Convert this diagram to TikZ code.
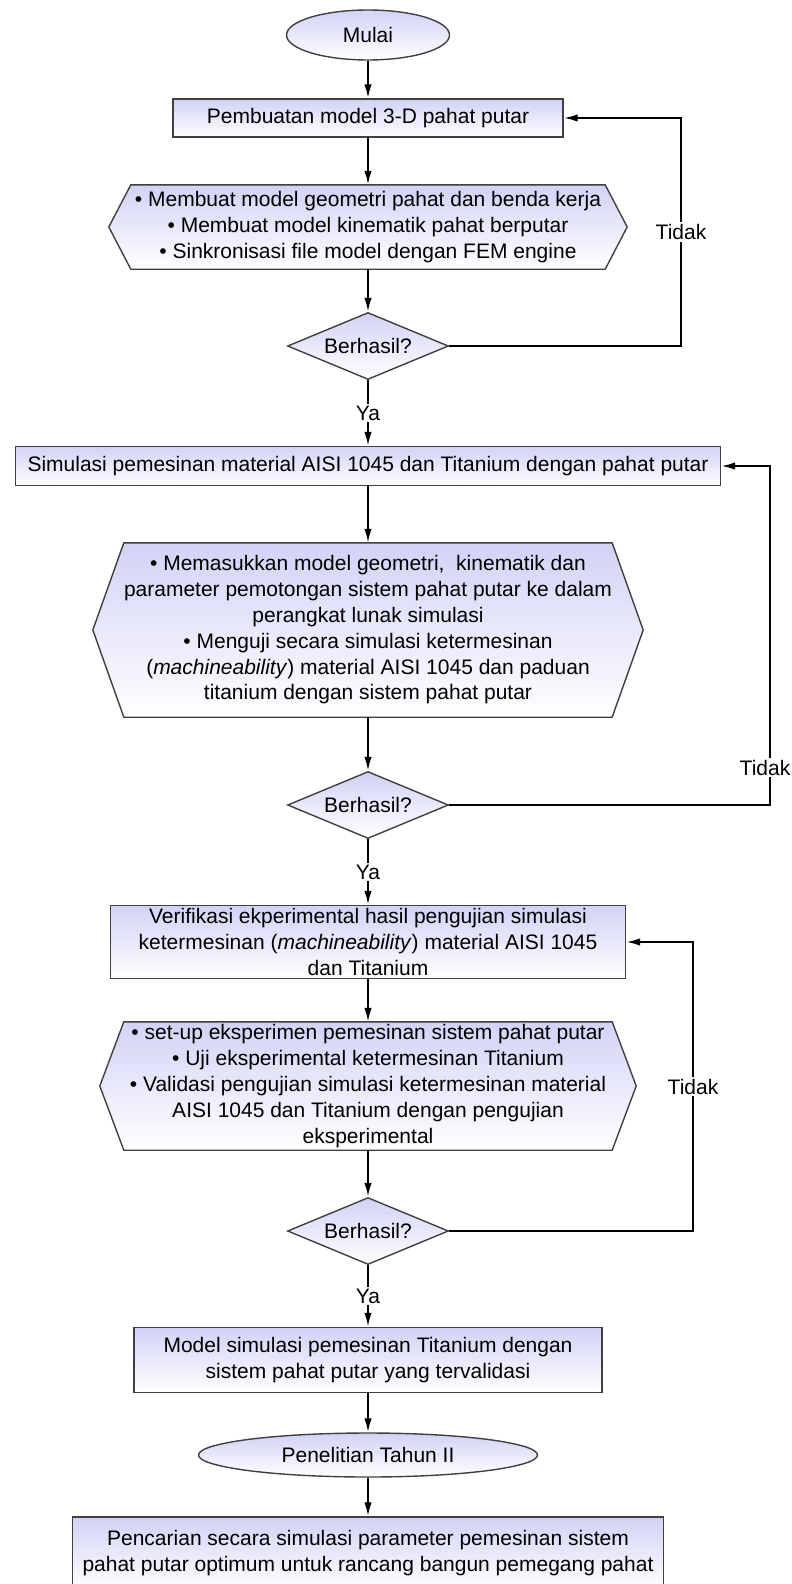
\documentclass[tikz,border=0pt]{standalone}
\usepackage{fontspec}
\setmainfont{Liberation Sans}
\usetikzlibrary{arrows.meta, shapes.geometric, positioning, backgrounds}
\definecolor{boxlav}{RGB}{210, 210, 246}
\definecolor{edgegray}{RGB}{64, 64, 64}

\begin{document}
\begin{tikzpicture}[x=1pt, y=-1pt,
    every node/.style={font=\fontsize{21}{25.8}\selectfont, align=center, inner sep=0pt},
    procbox/.style={draw=edgegray, line width=1.4pt, top color=boxlav, bottom color=white},
    term/.style={procbox, ellipse},
    decision/.style={procbox, diamond, aspect=2.4, minimum width=161pt, minimum height=67pt},
    flow/.style={-{Latex[length=14pt, width=7.5pt]}, line width=2pt},
    answer/.style={fill=white, inner sep=2pt}]
  \useasboundingbox (0,0) rectangle (792,1584);
  \node[term, minimum width=163pt, minimum height=50pt] (start) at (368,35) {Mulai};
  \node[procbox, minimum width=390pt, minimum height=38pt] (model3d) at (368,118) {Pembuatan model 3-D pahat putar};
  \node[minimum width=474pt, minimum height=84pt] (geo) at (368,227) {• Membuat model geometri pahat dan benda kerja\\• Membuat model kinematik pahat berputar\\• Sinkronisasi file model dengan FEM engine};
  \node[decision] (chk1) at (368,346) {Berhasil?};
  \node[procbox, minimum width=705pt, minimum height=39pt] (sim) at (368,466) {Simulasi pemesinan material AISI 1045 dan Titanium dengan pahat putar};
  \node[minimum width=483pt, minimum height=174pt] (input) at (368,630) {• Memasukkan model geometri,~ kinematik dan\\parameter pemotongan sistem pahat putar ke dalam\\perangkat lunak simulasi\\• Menguji secara simulasi ketermesinan\\(\textit{machineability}) material AISI 1045 dan paduan\\titanium dengan sistem pahat putar};
  \node[decision] (chk2) at (368,805) {Berhasil?};
  \node[procbox, minimum width=515pt, minimum height=73pt] (verif) at (368,942) {Verifikasi ekperimental hasil pengujian simulasi\\ketermesinan (\textit{machineability}) material AISI 1045\\dan Titanium};
  \node[minimum width=488pt, minimum height=128pt] (expt) at (368,1086) {• set-up eksperimen pemesinan sistem pahat putar\\• Uji eksperimental ketermesinan Titanium\\• Validasi pengujian simulasi ketermesinan material\\AISI 1045 dan Titanium dengan pengujian\\eksperimental};
  \node[decision] (chk3) at (368,1231) {Berhasil?};
  \node[procbox, minimum width=468pt, minimum height=65pt] (valid) at (368,1360) {Model simulasi pemesinan Titanium dengan\\sistem pahat putar yang tervalidasi};
  \node[term, minimum width=339pt, minimum height=44pt] (year2) at (368,1455) {Penelitian Tahun II};
  \node[procbox, minimum width=591pt, minimum height=72pt] (search) at (368,1553) {Pencarian secara simulasi parameter pemesinan sistem\\pahat putar optimum untuk rancang bangun pemegang pahat};
  % hexagon outlines behind the text
  \begin{scope}[on background layer]
    \path[procbox] (geo.north west) -- (geo.north east) -- ([xshift=22pt]geo.east) -- (geo.south east) -- (geo.south west) -- ([xshift=-22pt]geo.west) -- cycle;
    \path[procbox] (input.north west) -- (input.north east) -- ([xshift=31pt]input.east) -- (input.south east) -- (input.south west) -- ([xshift=-31pt]input.west) -- cycle;
    \path[procbox] (expt.north west) -- (expt.north east) -- ([xshift=24pt]expt.east) -- (expt.south east) -- (expt.south west) -- ([xshift=-24pt]expt.west) -- cycle;
  \end{scope}
  \coordinate (back1) at (681,0);
  \coordinate (back2) at (770,0);
  \coordinate (back3) at (693,0);
  \draw[flow] (start) -- (model3d);
  \draw[flow] (model3d) -- (geo);
  \draw[flow] (geo) -- (chk1);
  \draw[flow] (chk1) -- (sim) node[midway, answer] {Ya};
  \draw[flow] (chk1.east) -- (chk1.east -| back1) |- (model3d.east) node[pos=0.25, answer] {Tidak};
  \draw[flow] (sim) -- (input);
  \draw[flow] (input) -- (chk2);
  \draw[flow] (chk2) -- (verif) node[midway, answer] {Ya};
  \draw[flow] (chk2.east) -- (chk2.east -| back2) |- (sim.east) node[pos=0.055, answer, xshift=-5pt] {Tidak};
  \draw[flow] (verif) -- (expt);
  \draw[flow] (expt) -- (chk3);
  \draw[flow] (chk3) -- (valid) node[midway, answer] {Ya};
  \draw[flow] (chk3.east) -- (chk3.east -| back3) |- (verif.east) node[pos=0.25, answer] {Tidak};
  \draw[flow] (valid) -- (year2);
  \draw[flow] (year2) -- (search);
\end{tikzpicture}
\end{document}
